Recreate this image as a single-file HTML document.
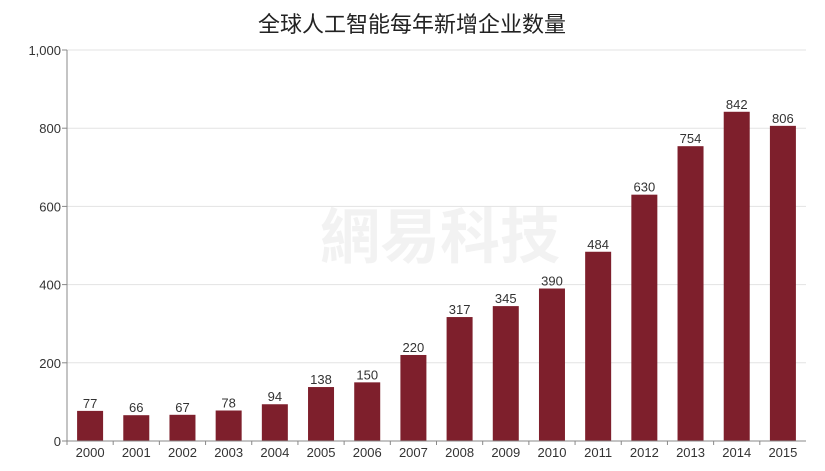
<!DOCTYPE html>
<html><head><meta charset="utf-8"><style>
body{margin:0;background:#fff;}
svg{display:block;font-family:"Liberation Sans","Noto Sans CJK SC",sans-serif;}
</style></head><body>
<svg id="chart" width="825" height="471">
<text x="412" y="32" text-anchor="middle" font-size="22" fill="#222">全球人工智能每年新增企业数量</text>
<text x="440" y="258" text-anchor="middle" font-size="60" fill="#000" fill-opacity="0.05" font-weight="bold">網易科技</text>
<g id="grid"></g><g id="bars"></g><g id="axes"></g>
</svg>
<script>
const categories=["2000","2001","2002","2003","2004","2005","2006","2007","2008","2009","2010","2011","2012","2013","2014","2015"];
const values=[77,66,67,78,94,138,150,220,317,345,390,484,630,754,842,806];
const yTicks=[0,200,400,600,800,1000];
const yTickLabels=["0","200","400","600","800","1,000"];
const NS="http://www.w3.org/2000/svg";
const x0=67,x1=806,y0=441,y1=50,yMax=1000;
const band=(x1-x0)/categories.length;
const xs=i=>x0+band*(i+0.5);
const ys=v=>y0-(v/yMax)*(y0-y1);
function mk(tag,attrs,parent,text){const e=document.createElementNS(NS,tag);for(const k in attrs)e.setAttribute(k,attrs[k]);if(text!==undefined)e.textContent=text;document.getElementById(parent).appendChild(e);return e;}
yTicks.forEach((t,i)=>{
 const y=ys(t);
 if(t>0){const g=mk('line',{x1:x0,x2:x1,y1:y,y2:y,stroke:'#e3e3e3','stroke-width':1},'grid');
 
 }
 const tk=mk('line',{x1:x0-5,x2:x0,y1:y,y2:y,stroke:'#888'},'axes');
 
 
 const l=mk('text',{x:x0-6,y:y+5,'text-anchor':'end','font-size':13,fill:'#333'},'axes',yTickLabels[i]);
 
 
});
values.forEach((v,i)=>{
 const cx=xs(i);
 const r=mk('rect',{x:cx-13,y:ys(v),width:26,height:y0-ys(v),fill:'#7e1f2c'},'bars');
 
 
 const t=mk('text',{x:cx,y:ys(v)-3,'text-anchor':'middle','font-size':13,fill:'#333'},'bars',String(v));
 
 
 const c=mk('text',{x:cx,y:y0+16,'text-anchor':'middle','font-size':13,fill:'#333'},'axes',categories[i]);
 
 
 const tk=mk('line',{x1:x0+band*i,x2:x0+band*i,y1:y0,y2:y0+4,stroke:'#888'},'axes');
 
 
});
const ya=mk('line',{x1:x0,x2:x0,y1:y1,y2:y0,stroke:'#888'},'axes');


const xa=mk('line',{x1:x0,x2:x1,y1:y0,y2:y0,stroke:'#888'},'axes');


</script>
</body></html>
